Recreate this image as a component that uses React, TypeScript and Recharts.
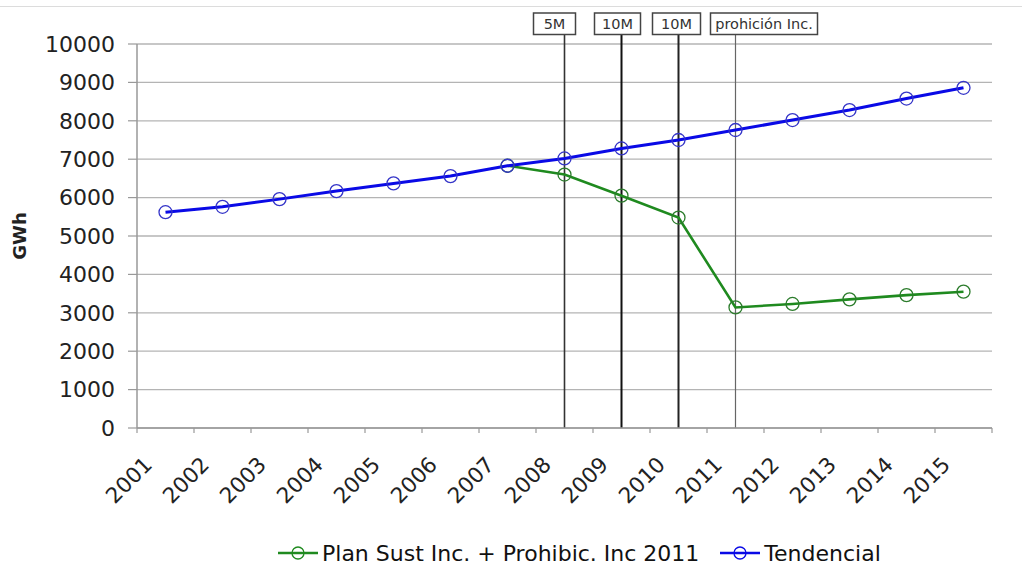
import React from 'react';
import { LineChart, Line, XAxis, YAxis, CartesianGrid, ReferenceLine, Legend } from 'recharts';

const years = ['2001', '2002', '2003', '2004', '2005', '2006', '2007', '2008', '2009', '2010', '2011', '2012', '2013', '2014', '2015'];
const tendencial = [5620, 5760, 5960, 6170, 6370, 6560, 6830, 7020, 7280, 7500, 7760, 8020, 8280, 8580, 8860];
const planSust = [null, null, null, null, null, null, 6830, 6600, 6050, 5480, 3140, 3230, 3350, 3460, 3550];
const yTicks = [0, 1000, 2000, 3000, 4000, 5000, 6000, 7000, 8000, 9000, 10000];
const markerYears = ['2008', '2009', '2010', '2011'];
const markerLabels = ['5M', '10M', '10M', 'prohición Inc.'];
const seriesNames = ['Plan Sust Inc. + Prohibic. Inc 2011', 'Tendencial'];

const data = years.map((y, i) => ({ year: y, plan: planSust[i], tend: tendencial[i] }));

const FONT = '"DejaVu Sans", sans-serif';
const HALF_BAND = 28.5;

// style of each marker: box offset/width relative to its line, line stroke
const markerStyles = [
  { dx: -31, w: 42, stroke: '#333', sw: 1.6 },
  { dx: -27, w: 46, stroke: '#111', sw: 2 },
  { dx: -26, w: 48, stroke: '#222', sw: 2 },
  { dx: -25, w: 107, stroke: '#666', sw: 1.2 },
];

const XTick = (props: any) => {
  const { x, y, payload, index } = props;
  const tx = x - 12;
  const ty = y + 38;
  return (
    <g>
      <line x1={x - HALF_BAND} y1={y} x2={x - HALF_BAND} y2={y + 5} stroke="#999" strokeWidth={1.2} />
      {index === years.length - 1 && (
        <line x1={x + HALF_BAND} y1={y} x2={x + HALF_BAND} y2={y + 5} stroke="#999" strokeWidth={1.2} />
      )}
      <text
        x={tx}
        y={ty}
        transform={`rotate(-45, ${tx}, ${ty})`}
        textAnchor="end"
        fontSize={21.5}
        fontFamily={FONT}
        fill="#222"
      >
        {payload.value}
      </text>
    </g>
  );
};

const YLabel = (props: any) => {
  const vb = props.viewBox || { x: 0, y: 44, width: 137, height: 384 };
  const cx = vb.x + 19;
  const cy = vb.y + vb.height / 2;
  return (
    <text
      x={cx}
      y={cy}
      transform={`rotate(-90, ${cx}, ${cy})`}
      textAnchor="middle"
      dominantBaseline="central"
      fontSize={18}
      fontWeight="bold"
      fontFamily={FONT}
      fill="#222"
    >
      GWh
    </text>
  );
};

const MarkerLabel = (props: any) => {
  const { viewBox, text, mstyle } = props;
  if (!viewBox) return null;
  const x = viewBox.x;
  const top = viewBox.y;
  const boxTop = top - 31;
  const boxH = 21.5;
  return (
    <g>
      <line x1={x} y1={boxTop + boxH} x2={x} y2={top} stroke={mstyle.stroke} strokeWidth={mstyle.sw} />
      <rect x={x + mstyle.dx} y={boxTop} width={mstyle.w} height={boxH} fill="#fff" stroke="#444" strokeWidth={1.5} />
      <text
        x={x + mstyle.dx + mstyle.w / 2}
        y={boxTop + boxH / 2}
        textAnchor="middle"
        dominantBaseline="central"
        fontSize={14.5}
        fontFamily={FONT}
        fill="#333"
      >
        {text}
      </text>
    </g>
  );
};

const LegendContent = (props: any) => {
  const { payload } = props;
  return (
    <div style={{ display: 'flex', alignItems: 'center', height: 32, fontFamily: FONT, fontSize: 22, color: '#111', whiteSpace: 'nowrap' }}>
      {(payload || []).map((p: any, i: number) => (
        <div key={i} style={{ display: 'flex', alignItems: 'center', marginRight: 21 }}>
          <svg width={40} height={20} style={{ display: 'block' }}>
            <line x1={0} y1={10} x2={40} y2={10} stroke={p.color} strokeWidth={2.5} />
            <circle cx={20} cy={10} r={6} fill="none" stroke={p.color} strokeWidth={1.3} />
          </svg>
          <span style={{ marginLeft: 4 }}>{p.value}</span>
        </div>
      ))}
    </div>
  );
};

export default function App() {
  return (
    <div style={{ position: 'absolute', left: 0, top: 0, width: 1022, height: 570, background: '#fff' }}>
      <div style={{ position: 'absolute', left: 0, top: 6, width: 1022, height: 0, borderTop: '1px solid #dcdcdc' }} />
      <LineChart width={1022} height={570} data={data} margin={{ top: 44, right: 30, left: 0, bottom: 0 }}>
        <CartesianGrid vertical={false} stroke="#b4b4b4" strokeWidth={1.3} />
        <XAxis
          dataKey="year"
          padding={{ left: HALF_BAND, right: HALF_BAND }}
          height={110}
          interval={0}
          tickSize={0}
          tickMargin={0}
          tickLine={false}
          axisLine={{ stroke: '#999', strokeWidth: 1.5 }}
          tick={<XTick />}
        />
        <YAxis
          width={137}
          domain={[0, 10000]}
          ticks={yTicks}
          interval={0}
          tickSize={9}
          tickMargin={13}
          tickLine={{ stroke: '#999', strokeWidth: 1.2 }}
          axisLine={{ stroke: '#999', strokeWidth: 1.5 }}
          tick={{ fontSize: 22, fontFamily: FONT, fill: '#222' }}
          label={<YLabel />}
        />
        <YAxis
          yAxisId="right"
          orientation="right"
          width={0}
          domain={[0, 10000]}
          tick={false}
          tickLine={false}
          axisLine={{ stroke: '#999', strokeWidth: 1.5 }}
        />
        {markerYears.map((yr, i) => (
          <ReferenceLine
            key={yr + i}
            x={yr}
            stroke={markerStyles[i].stroke}
            strokeWidth={markerStyles[i].sw}
            label={<MarkerLabel text={markerLabels[i]} mstyle={markerStyles[i]} />}
          />
        ))}
        <Line
          dataKey="plan"
          name={seriesNames[0]}
          stroke="#1f8a1f"
          strokeWidth={2.6}
          dot={{ r: 6.5, fill: 'none', stroke: '#2c7c2c', strokeWidth: 1.3 }}
          activeDot={false}
          isAnimationActive={false}
        />
        <Line
          dataKey="tend"
          name={seriesNames[1]}
          stroke="#0a0ae6"
          strokeWidth={3}
          dot={{ r: 6.5, fill: 'none', stroke: '#3535c8', strokeWidth: 1.3 }}
          activeDot={false}
          isAnimationActive={false}
        />
        <Legend
          verticalAlign="bottom"
          content={<LegendContent />}
          wrapperStyle={{ left: 278, width: 660, bottom: 1 }}
        />
      </LineChart>
    </div>
  );
}
